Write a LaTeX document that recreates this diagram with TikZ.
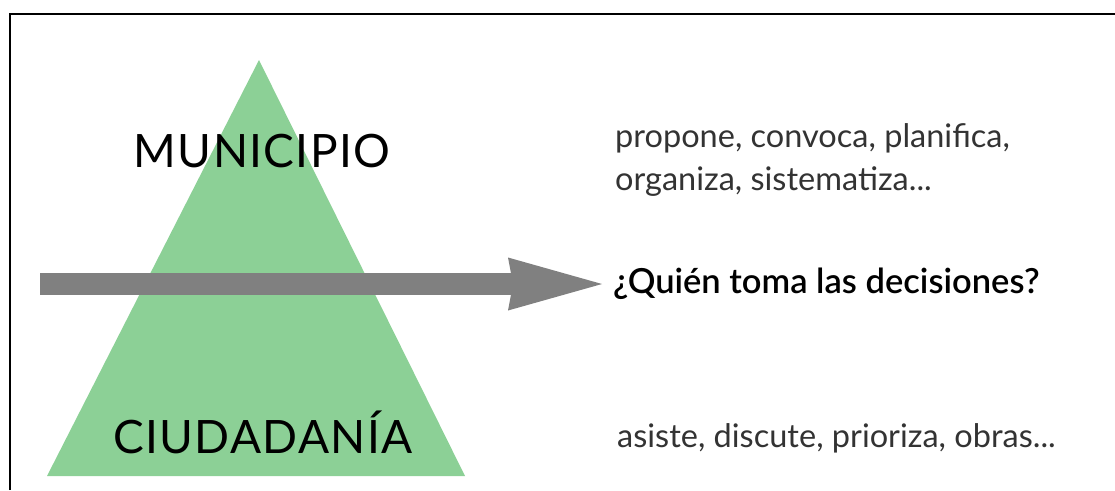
\documentclass[tikz,border=0pt]{standalone}
\usepackage{fontspec}
\setmainfont{Lato}
\newfontfamily\semibold{Lato Semibold}
\usetikzlibrary{arrows.meta}
\definecolor{pyramidgreen}{HTML}{8CD096}
\definecolor{arrowgray}{HTML}{808080}
\definecolor{textgray}{HTML}{333333}

\begin{document}
\begin{tikzpicture}[x=1pt, y=-1pt,
  level/.style={font=\addfontfeatures{LetterSpace=3}\fontsize{46}{50}\selectfont, text=black, inner sep=0pt},
  role/.style={font=\fontsize{32.5}{43}\selectfont, text=textgray, align=left, inner sep=0pt}]
  \useasboundingbox (0,0) rectangle (1115,490);
  % frame (cut on the right and at the bottom)
  \draw[line width=2pt] (10,490) -- (10,14) -- (1115,14);

  \fill[pyramidgreen] (259,60) -- (465,476) -- (47,476) -- cycle;
  \node[level] (municipio) at (262,151) {MUNICIPIO};
  \node[level, anchor=base] (ciudadania) at (263,453) {CIUDADANÍA};

  \node[role, anchor=north west] (arriba) at (615,123)
    {propone, convoca, planifica,\\organiza, sistematiza...};
  \node[role, anchor=base west, font=\semibold\fontsize{34.5}{38}\selectfont, text=black]
    (pregunta) at (613,293) {¿Quién toma las decisiones?};
  \node[role, anchor=base west] (abajo) at (617,447)
    {asiste, discute, prioriza, obras...};

  \coordinate (cola) at (40,284);
  \draw[arrowgray, line width=22pt,
    -{Stealth[length=94pt, width=53pt, inset=5pt, line width=0pt]}, shorten >=11pt]
    (cola) -- (cola -| pregunta.west);
\end{tikzpicture}
\end{document}
